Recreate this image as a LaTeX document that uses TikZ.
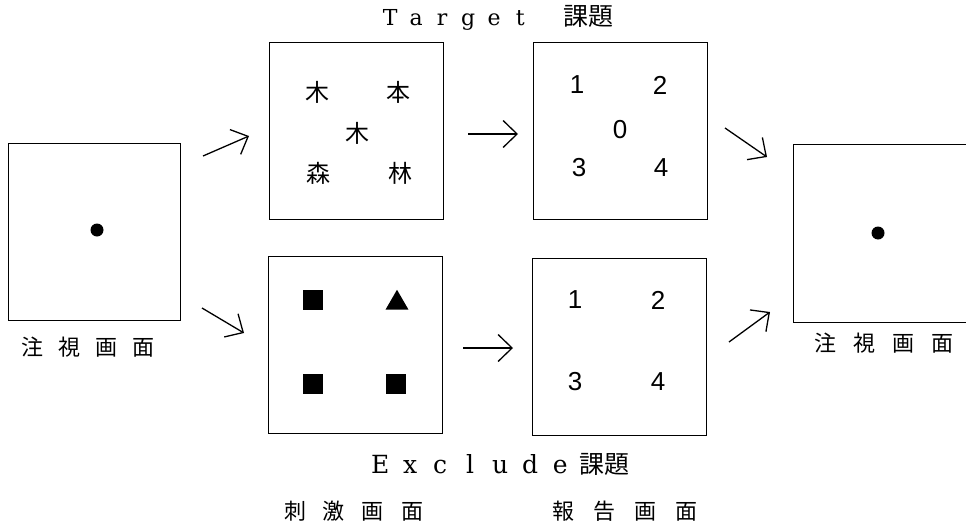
\documentclass[tikz,border=0pt]{standalone}
\usepackage{fontspec}
\setmainfont{DejaVu Serif}
\newfontfamily\cjk{Noto Sans CJK JP}
\newfontfamily\digitfont{Liberation Sans}
\usetikzlibrary{arrows.meta,shapes.geometric}
\newcommand{\lw}[2]{\makebox[#1]{#2}}
\tikzset{
  screen/.style={draw, line width=1pt, minimum width=174pt, minimum height=177pt, inner sep=0pt},
  arr/.style={line width=1.3pt, -{Straight Barb[length=14pt,width=27pt,line width=1.3pt]}},
  kan/.style={font=\cjk\fontsize{24}{24}\selectfont, inner sep=0pt},
  num/.style={font=\digitfont\fontsize{26}{26}\selectfont, inner sep=0pt},
  lbl/.style={font=\cjk\fontsize{22}{22}\selectfont, inner sep=0pt},
  fixdot/.style={circle, fill, inner sep=0pt, minimum size=13pt},
  blk/.style={fill, inner sep=0pt, minimum size=20pt},
  tri/.style={regular polygon, regular polygon sides=3, fill, inner sep=0pt, minimum size=26.5pt},
  edge/.style={line width=1pt},
}
\begin{document}
\begin{tikzpicture}[x=1pt,y=-1pt]
\useasboundingbox (0,0) rectangle (966,530);

% screens
\node[screen, minimum width=172pt] (fixL) at (94,231.5) {};
\node[fixdot] (fixLdot) at (97,230) {};
\node[screen] (stimT) at (356.5,130.5) {};
\node[screen] (stimB) at (355.5,345) {};
\node[screen] (repT) at (620.5,131) {};
\node[screen] (repB) at (619,346.5) {};

% right fixation screen (cut by the page edge)
\coordinate (fixRnw) at (793,144);
\coordinate (fixRsw) at (793,322);
\coordinate (edgeT) at (966,144);
\coordinate (edgeB) at (966,322);
\draw[edge] (edgeT) -- (fixRnw) -- (fixRsw) -- (edgeB);
\node[fixdot] (fixRdot) at (878,233) {};

% stimulus (target)
\node[kan] (k1) at (317,92) {木};
\node[kan] (k2) at (398,92) {本};
\node[kan] (k3) at (357,133) {木};
\node[kan] (k4) at (318,173) {森};
\node[kan] (k5) at (400,173) {林};

% stimulus (exclude)
\node[blk] (s1) at (313,300) {};
\node[tri] (s2) at (397,303) {};
\node[blk] (s3) at (313,384) {};
\node[blk] (s4) at (396,384) {};

% report (target)
\node[num] (n1) at (577,85) {1};
\node[num] (n2) at (660,85) {2};
\node[num] (n0) at (620,130) {0};
\node[num] (n3) at (579,168) {3};
\node[num] (n4) at (661,168) {4};

% report (exclude)
\node[num] (m1) at (575,300) {1};
\node[num] (m2) at (658,300) {2};
\node[num] (m3) at (575,382) {3};
\node[num] (m4) at (658,382) {4};

% arrows
\coordinate (a1s) at (203,156); \coordinate (a1e) at (249,136);
\coordinate (a2s) at (202,308); \coordinate (a2e) at (244,333);
\coordinate (a3s) at (468,134); \coordinate (a3e) at (518,134);
\coordinate (a4s) at (463,348); \coordinate (a4e) at (513,348);
\coordinate (a5s) at (725,128); \coordinate (a5e) at (767,157);
\coordinate (a6s) at (729,342); \coordinate (a6e) at (770,312);
\draw[arr] (a1s) -- (a1e);
\draw[arr] (a2s) -- (a2e);
\draw[arr] (a3s) -- (a3e);
\draw[arr] (a4s) -- (a4e);
\draw[arr] (a5s) -- (a5e);
\draw[arr] (a6s) -- (a6e);

% labels
\node[lbl] (lblL) at (88,347) {注\hspace{14.7pt}視\hspace{14.7pt}画\hspace{14.7pt}面};
\node[lbl] (lblR) at (884,343) {注\hspace{17pt}視\hspace{17pt}画\hspace{17pt}面};
\node[lbl] (lblS) at (353.5,511) {刺\hspace{17pt}激\hspace{17pt}画\hspace{17pt}面};
\node[lbl] (lblP) at (625,511) {報\hspace{19pt}告\hspace{19pt}画\hspace{19pt}面};

% titles
\node[anchor=base west, inner sep=0pt, font=\fontsize{22}{22}\selectfont] (ttlT) at (377,25)
  {\lw{26pt}{T}\lw{26pt}{a}\lw{26pt}{r}\lw{26pt}{g}\lw{26pt}{e}\lw{26pt}{t}\hspace{30pt}{\cjk\fontsize{25}{25}\selectfont 課題}};
\node[anchor=base west, inner sep=0pt, font=\fontsize{25}{25}\selectfont] (ttlE) at (365,473)
  {\lw{30pt}{E}\lw{30pt}{x}\lw{30pt}{c}\lw{30pt}{l}\lw{30pt}{u}\lw{30pt}{d}\lw{30pt}{e}\hspace{4pt}{\cjk\fontsize{25}{25}\selectfont 課題}};
\end{tikzpicture}
\end{document}
